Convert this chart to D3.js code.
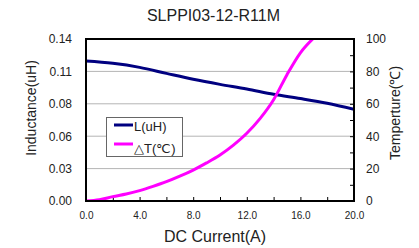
<!DOCTYPE html>
<html>
<head>
<meta charset="utf-8">
<script src="https://cdn.jsdelivr.net/npm/d3@7/dist/d3.min.js"></script>
<style>
  body { margin: 0; background: #fff; }
  text { font-family: "Liberation Sans", Arial, sans-serif; fill: #222; }
</style>
</head>
<body>
<div id="chart"></div>
<script>
// data
const current = [0, 2, 4, 6, 8, 10, 12, 14, 16, 18, 20];
const inductance = [0.1210, 0.1190, 0.1155, 0.1103, 0.1052, 0.1008, 0.0968, 0.0922, 0.0885, 0.0844, 0.0792];
const tempCurrent = [0, 1, 2, 3, 4, 5, 6, 7, 8, 9, 10, 11, 12, 13, 14, 15, 16, 17];
const tempRise = [0, 0.8, 2.7, 4.3, 6.4, 9, 11.9, 15.3, 19.1, 23.5, 28.4, 34.5, 41.8, 51, 62.5, 78, 91.5, 100.7];
const xLabels = [0, 4, 8, 12, 16, 20];
const leftTicks = [0, 0.028, 0.056, 0.084, 0.112, 0.14];
const rightTicks = [0, 20, 40, 60, 80, 100];

const width = 419, height = 248;
const plotL = 86, plotR = 354, plotT = 39, plotB = 201;

var svg = d3.select("#chart")
    .append("svg")
    .attr("width", width)
    .attr("height", height);

var x = d3.scaleLinear().domain([0, 20]).range([plotL, plotR]);
var yL = d3.scaleLinear().domain([0, 0.14]).range([plotB, plotT]);
var yR = d3.scaleLinear().domain([0, 100]).range([plotB, plotT]);

svg.append("defs").append("clipPath").attr("id", "plot")
    .append("rect")
    .attr("x", plotL).attr("y", plotT)
    .attr("width", plotR - plotL).attr("height", plotB - plotT);

// grid lines
svg.append("g")
    .selectAll("line")
    .data(leftTicks)
    .enter()
    .append("line")
    .attr("x1", plotL).attr("x2", plotR)
    .attr("y1", d => yL(d)).attr("y2", d => yL(d))
    .style("stroke", "#b4b4b4")
    .style("stroke-width", 1);

// inner ticks on bottom
svg.append("g")
    .attr("transform", `translate(0, ${plotB})`)
    .call(d3.axisTop(x).tickValues(d3.range(2, 20, 2)).tickSize(4).tickFormat(""))
    .call(g => g.select(".domain").remove())
    .selectAll("line").style("stroke", "#000");

// inner ticks on right
svg.append("g")
    .attr("transform", `translate(${plotR}, 0)`)
    .call(d3.axisLeft(yR).tickValues(d3.range(10, 100, 10)).tickSize(4).tickFormat(""))
    .call(g => g.select(".domain").remove())
    .selectAll("line").style("stroke", "#000");

// tick labels
svg.append("g")
    .attr("transform", `translate(0, ${plotB})`)
    .call(d3.axisBottom(x).tickValues(xLabels).tickFormat(d3.format(".1f")).tickSize(0).tickPadding(11))
    .call(g => g.select(".domain").remove())
    .selectAll("text")
    .style("font-size", "10px")
    .style("font-family", "Liberation Sans, Arial, sans-serif");

svg.append("g")
    .attr("transform", `translate(${plotL}, 0)`)
    .call(d3.axisLeft(yL).tickValues(leftTicks).tickFormat(d3.format(".2f")).tickSize(0).tickPadding(14))
    .call(g => g.select(".domain").remove())
    .selectAll("text")
    .style("font-size", "12px")
    .style("font-family", "Liberation Sans, Arial, sans-serif");

svg.append("g")
    .attr("transform", `translate(${plotR}, 0)`)
    .call(d3.axisRight(yR).tickValues(rightTicks).tickSize(0).tickPadding(12))
    .call(g => g.select(".domain").remove())
    .selectAll("text")
    .style("font-size", "12px")
    .style("font-family", "Liberation Sans, Arial, sans-serif");

// curves
var lineL = d3.line()
    .x((d, i) => x(current[i]))
    .y(d => yL(d))
    .curve(d3.curveMonotoneX);

var lineT = d3.line()
    .x((d, i) => x(tempCurrent[i]))
    .y(d => yR(d))
    .curve(d3.curveMonotoneX);

svg.append("path")
    .attr("d", lineL(inductance))
    .attr("clip-path", "url(#plot)")
    .style("fill", "none")
    .style("stroke", "#000080")
    .style("stroke-width", 3);

svg.append("path")
    .attr("d", lineT(tempRise))
    .attr("clip-path", "url(#plot)")
    .style("fill", "none")
    .style("stroke", "#ff00ff")
    .style("stroke-width", 3);

// frame
svg.append("rect")
    .attr("x", plotL).attr("y", plotT)
    .attr("width", plotR - plotL).attr("height", plotB - plotT)
    .style("fill", "none")
    .style("stroke", "#000")
    .style("stroke-width", 2);

// legend
var legend = svg.append("g");
legend.append("rect")
    .attr("x", 106.5).attr("y", 117.5)
    .attr("width", 76).attr("height", 39)
    .style("fill", "#fff")
    .style("stroke", "#666")
    .style("stroke-width", 1);

var items = [
    { name: "L(uH)", color: "#000080" },
    { name: "\u25b3T(\u2103)", color: "#ff00ff" }
];
items.forEach((it, i) => {
    legend.append("line")
        .attr("x1", 114).attr("x2", 133)
        .attr("y1", 125 + i * 19).attr("y2", 125 + i * 19)
        .style("stroke", it.color)
        .style("stroke-width", 3);
    legend.append("text")
        .attr("x", 134).attr("y", 130.5 + i * 22.5)
        .style("font-size", "13px")
        .text(it.name);
});

// titles
svg.append("text")
    .attr("x", 213.5).attr("y", 21)
    .style("text-anchor", "middle")
    .style("font-size", "16px")
    .text("SLPPI03-12-R11M");

svg.append("text")
    .attr("x", 215).attr("y", 241.5)
    .style("text-anchor", "middle")
    .style("font-size", "16px")
    .text("DC Current(A)");

svg.append("text")
    .attr("transform", "translate(36, 108) rotate(-90)")
    .style("text-anchor", "middle")
    .style("font-size", "14px")
    .text("Inductance(uH)");

svg.append("text")
    .attr("transform", "translate(400, 113) rotate(-90)")
    .style("text-anchor", "middle")
    .style("font-size", "14px")
    .text("Temperture(\u2103)");
</script>
</body>
</html>
